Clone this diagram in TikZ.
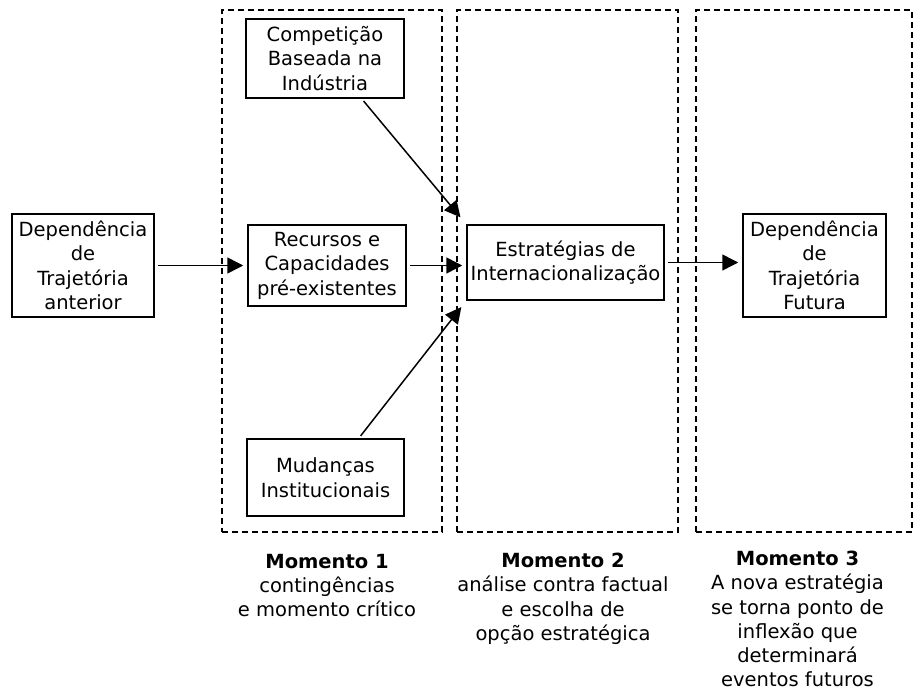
\documentclass[tikz,border=0pt]{standalone}
\usepackage{fontspec}
\setmainfont{DejaVu Sans}
\usetikzlibrary{arrows.meta,calc}
\begin{document}
\begin{tikzpicture}[x=1pt,y=-1pt,
  box/.style={draw, line width=1.5pt, align=center, inner sep=1pt,
    font=\fontsize{19.5}{24.5}\selectfont},
  frame/.style={draw, line width=1.3pt, dash pattern=on 6pt off 4pt, inner sep=0pt, outer sep=0pt},
  arr/.style={line width=1.5pt, -{Triangle[length=16pt,width=16pt]}, shorten <=3pt, shorten >=4pt},
  caption/.style={align=center, inner sep=0pt, anchor=north,
    font=\fontsize{19.5}{24.2}\selectfont}]
\useasboundingbox (0,0) rectangle (914,693);
% frames
\node[frame, minimum width=220pt, minimum height=522pt] (m1) at (332,271) {};
\node[frame, minimum width=221pt, minimum height=522pt] (m2) at (567.5,271) {};
\node[frame, minimum width=216pt, minimum height=522pt] (m3) at (804,271) {};
% boxes
\node[box, minimum width=142pt, minimum height=103pt] (depA) at (83,265.5) {Dependência\\de\\Trajetória\\anterior};
\node[box, minimum width=158pt, minimum height=79pt] (comp) at (325,58.5) {Competição\\Baseada na\\Indústria};
\node[box, minimum width=158pt, minimum height=81pt] (rec) at (327,265.5) {Recursos e\\Capacidades\\pré-existentes};
\node[box, minimum width=157pt, minimum height=77pt] (mud) at (325.5,477.5) {Mudanças\\Institucionais};
\node[box, minimum width=197pt, minimum height=75pt] (estr) at (565.5,262.5) {Estratégias de\\Internacionalização};
\node[box, minimum width=143pt, minimum height=103pt] (depF) at (814.5,265.5) {Dependência\\de\\Trajetória\\Futura};
% arrows
\draw[arr] (depA.east) -- (depA.east -| rec.west);
\draw[arr] (rec.east) -- (rec.east -| estr.west);
\draw[arr] (estr.east) -- (estr.east -| depF.west);
\draw[arr, shorten >=9pt] ($(comp.south west)!0.73!(comp.south east)$) -- (estr.north west);
\draw[arr, shorten >=8pt] ($(mud.north west)!0.71!(mud.north east)$) -- (estr.south west);
% captions
\node[caption] (c1) at (327,554) {\textbf{Momento 1}\\contingências\\e momento crítico};
\node[caption] (c2) at (563,553) {\textbf{Momento 2}\\análise contra factual\\e escolha de\\opção estratégica};
\node[caption] (c3) at (797.5,551) {\textbf{Momento 3}\\A nova estratégia\\se torna ponto de\\inflexão que\\determinará\\eventos futuros};
\end{tikzpicture}
\end{document}
